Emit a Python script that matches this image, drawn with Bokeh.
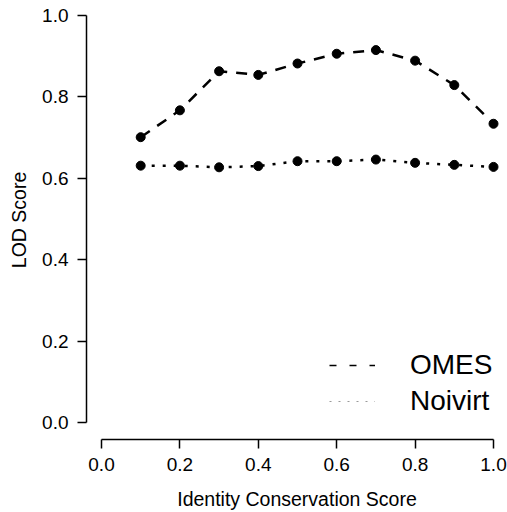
from bokeh.plotting import figure
from bokeh.models import Range1d, FixedTicker, NumeralTickFormatter, Legend, LegendItem
from bokeh.embed import file_html
from bokeh.resources import INLINE

identity = [0.1, 0.2, 0.3, 0.4, 0.5, 0.6, 0.7, 0.8, 0.9, 1.0]
omes = [0.701, 0.767, 0.863, 0.854, 0.882, 0.906, 0.915, 0.889, 0.829, 0.734]
noivirt = [0.631, 0.631, 0.627, 0.630, 0.642, 0.642, 0.646, 0.638, 0.633, 0.628]
tick_values = [0.0, 0.2, 0.4, 0.6, 0.8, 1.0]

FONT = "Liberation Sans"
NAN = float("nan")

p = figure(width=507, height=512, output_backend="svg", toolbar_location=None,
           x_range=Range1d(-0.03827, 1.0357), y_range=Range1d(-0.0417, 1.0368),
           min_border_left=86, min_border_bottom=72, min_border_top=0, min_border_right=0)
p.outline_line_color = None
p.xgrid.visible = False
p.ygrid.visible = False
p.background_fill_color = "white"
p.border_fill_color = "white"

p.line(identity, omes, line_color="black", line_width=2.5, line_dash="11 9")
p.scatter(identity, omes, size=9, fill_color="black", line_color="black")
p.line(identity, noivirt, line_color="black", line_width=2.5, line_dash="3 8")
p.scatter(identity, noivirt, size=9, fill_color="black", line_color="black")

# legend-only renderers (no visible data)
r_omes = p.line(x=[NAN, NAN], y=[NAN, NAN], line_color="black", line_width=1.5, line_dash="7 13")
r_noi = p.line(x=[NAN, NAN], y=[NAN, NAN], line_color="#9a9a9a", line_width=1.2, line_dash="2 7")

legend = Legend(items=[LegendItem(label="OMES", renderers=[r_omes]),
                       LegendItem(label="Noivirt", renderers=[r_noi])],
                location=(243, 22))
legend.border_line_color = None
legend.background_fill_alpha = 0
legend.padding = 0
legend.margin = 0
legend.spacing = 4
legend.glyph_width = 46
legend.glyph_height = 28
legend.label_standoff = 35
legend.label_text_font = FONT
legend.label_text_font_size = "28px"
legend.label_text_color = "black"
legend.label_height = 28
p.add_layout(legend, "center")

for ax in (p.xaxis[0], p.yaxis[0]):
    ax.ticker = FixedTicker(ticks=tick_values)
    ax.formatter = NumeralTickFormatter(format="0.0")
    ax.bounds = (0, 1)
    ax.minor_tick_line_color = None
    ax.major_tick_in = 0
    ax.major_tick_out = 9
    ax.axis_line_width = 1.5
    ax.major_tick_line_width = 1.5
    ax.axis_line_color = "black"
    ax.major_tick_line_color = "black"
    ax.major_label_text_font = FONT
    ax.major_label_text_font_size = "19px"
    ax.major_label_text_color = "black"
    ax.axis_label_text_font = FONT
    ax.axis_label_text_font_size = "19.5px"
    ax.axis_label_text_font_style = "normal"
    ax.axis_label_text_color = "black"

p.xaxis.axis_label = "Identity Conservation Score"
p.yaxis.axis_label = "LOD Score"
p.xaxis.major_label_standoff = 9
p.yaxis.major_label_standoff = 9
p.xaxis.axis_label_standoff = 14
p.yaxis.axis_label_standoff = 9

open("out.html", "w").write(file_html(p, INLINE))
